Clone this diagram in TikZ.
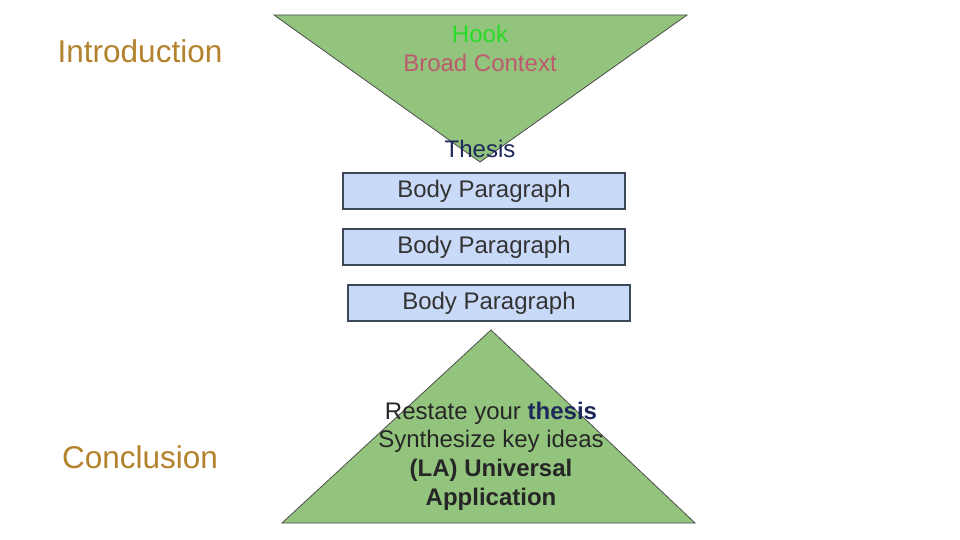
\documentclass[tikz,border=0pt]{standalone}
\usepackage{fontspec}
\setmainfont{Liberation Sans}
\begin{document}
\begin{tikzpicture}[x=1pt,y=-1pt,
  tri/.style={fill=tri,draw=black!70,line width=0.8pt},
  box/.style={draw=boxb,fill=boxf,line width=1.6pt},
  lbl/.style={font=\fontsize{31.5}{34}\selectfont,text=brownl},
  bt/.style={font=\fontsize{24}{28}\selectfont,text=black!80}]
\definecolor{tri}{RGB}{147,196,125}
\definecolor{boxf}{RGB}{201,218,248}
\definecolor{boxb}{RGB}{60,72,90}
\definecolor{brownl}{RGB}{180,130,45}
\definecolor{navy}{RGB}{30,40,90}
\definecolor{hookg}{RGB}{40,220,40}
\definecolor{rose}{RGB}{190,90,110}
\useasboundingbox (0,0) rectangle (960,540);
\fill[white] (0,0) rectangle (960,540);
\draw[tri] (274,15) -- (687,15) -- (480,162) -- cycle;
\draw[tri] (491,330) -- (695,523) -- (282,523) -- cycle;
\node[lbl] (intro) at (140,51) {Introduction};
\node[lbl] (concl) at (140,457) {Conclusion};
\node[bt,text=hookg] (hook) at (480,34) {Hook};
\node[bt,text=rose] (ctx) at (480,63) {Broad Context};
\node[bt,text=navy] (th) at (480,149) {Thesis};
\node[box,minimum width=282,minimum height=36,bt] (b1) at (484,191) {Body Paragraph};
\node[box,minimum width=282,minimum height=36,bt] (b2) at (484,247) {Body Paragraph};
\node[box,minimum width=282,minimum height=36,bt] (b3) at (489,303) {Body Paragraph};
\node[align=center,font=\fontsize{24}{28.7}\selectfont,text=black!85] (c) at (491,456)
 {Restate your \textbf{\color{navy}thesis}\\Synthesize key ideas\\\textbf{(LA) Universal}\\\textbf{Application}};
\end{tikzpicture}
\end{document}
